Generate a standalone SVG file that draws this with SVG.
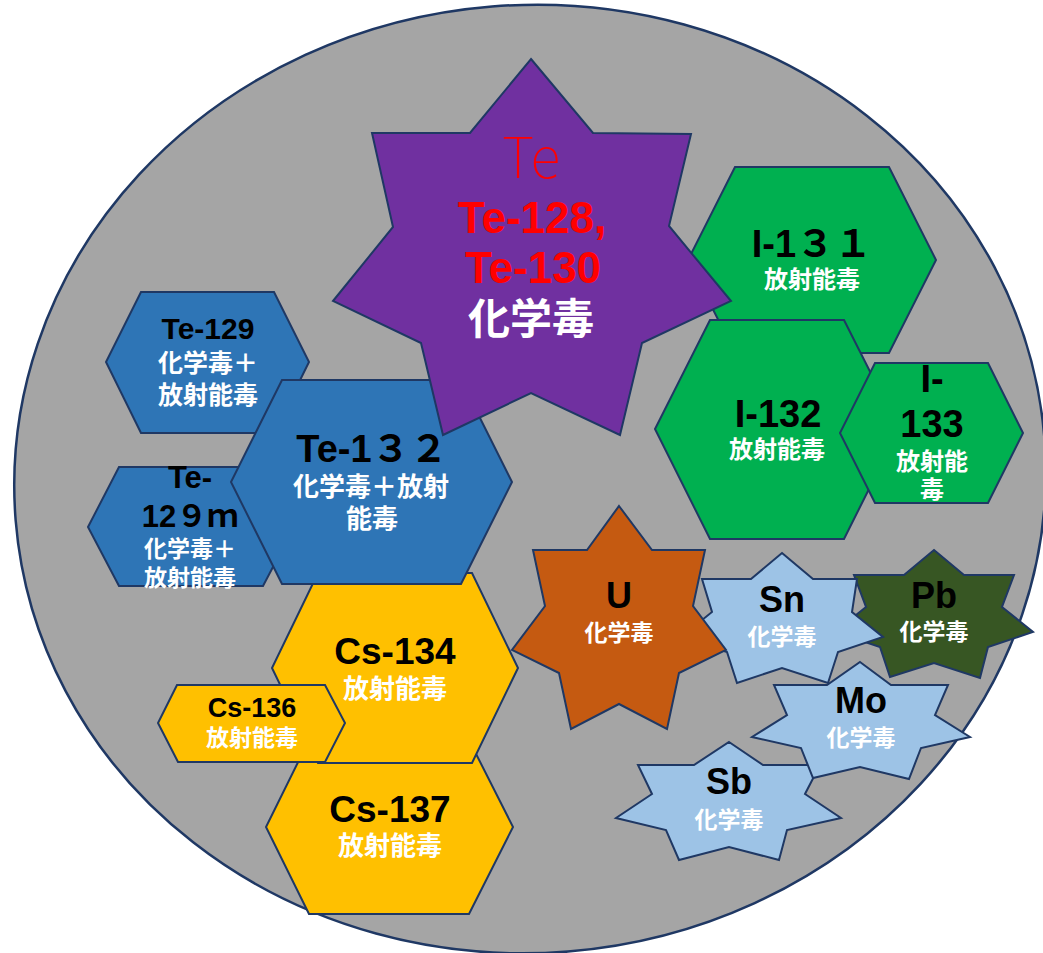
<svg xmlns="http://www.w3.org/2000/svg" width="1043" height="953" viewBox="0 0 1043 953">
<style>
.s{stroke:#1F3864;stroke-width:2;stroke-linejoin:miter}
.blue{fill:#2E75B6}.gold{fill:#FFC000}.green{fill:#00B050}.purple{fill:#7030A0}
.orange{fill:#C55A11}.lblue{fill:#9DC3E6}.dgreen{fill:#375623}
.k{font-family:"Liberation Sans","Noto Sans CJK JP",sans-serif;font-weight:bold;fill:#000;text-anchor:middle}
.w{font-family:"Noto Sans CJK JP",sans-serif;font-weight:bold;fill:#fff;text-anchor:middle}
.r{font-family:"Liberation Sans","Noto Sans CJK JP",sans-serif;font-weight:bold;fill:#FF0000;text-anchor:middle}
.rt{font-family:"Noto Sans CJK JP",sans-serif;font-weight:100;fill:#FF0000;text-anchor:middle}
</style>
<g id="background">
<ellipse cx="530" cy="479" rx="516" ry="474" transform="rotate(-4.6 530 479)" fill="#A5A5A5" stroke="#1F3864" stroke-width="2.5"/>
</g>
<g id="te129">
<polygon class="s blue" points="141,292 274,292 309,362 274,433 141,433 106,362"/>
<text class="k" x="208" y="339" font-size="30">Te-129</text>
<text class="w" x="208" y="372" font-size="25">化学毒＋</text>
<text class="w" x="208" y="404" font-size="25">放射能毒</text>
</g>
<g id="te129m">
<polygon class="s blue" points="119,467 263,467 294,527 263,586 119,586 88,527"/>
<text class="k" x="190" y="488" font-size="31">Te-</text>
<text class="k" x="190" y="527" font-size="31">12９ｍ</text>
<text class="w" x="190" y="557" font-size="23">化学毒＋</text>
<text class="w" x="190" y="586" font-size="23">放射能毒</text>
</g>
<g id="cs137">
<polygon class="s gold" points="309,740 469,740 513,827 469,914 309,914 266,827"/>
<text class="k" x="390" y="822" font-size="37">Cs-137</text>
<text class="w" x="390" y="855" font-size="26">放射能毒</text>
</g>
<g id="cs134">
<polygon class="s gold" points="318,573 472,573 518,668 472,763 318,763 272,668"/>
<text class="k" x="395" y="664" font-size="37">Cs-134</text>
<text class="w" x="395" y="698" font-size="26">放射能毒</text>
</g>
<g id="cs136">
<polygon class="s gold" points="177,685 325,685 345,723 325,762 178,762 158,723"/>
<text class="k" x="252" y="717" font-size="27">Cs-136</text>
<text class="w" x="252" y="746" font-size="23">放射能毒</text>
</g>
<g id="te132">
<polygon class="s blue" points="282,380 461,380 512,482 461,584 282,584 231,482"/>
<text class="k" x="372" y="462" font-size="38">Te-1３２</text>
<text class="w" x="371" y="496" font-size="26">化学毒＋放射</text>
<text class="w" x="372" y="528" font-size="26">能毒</text>
</g>
<g id="i131">
<polygon class="s green" points="735,167 889,167 936,260 889,353 735,353 688,260"/>
<text class="k" x="812" y="257" font-size="38">I-1３１</text>
<text class="w" x="812" y="288" font-size="24">放射能毒</text>
</g>
<g id="i132">
<polygon class="s green" points="710,320 844,320 899,429 844,539 710,539 655,429"/>
<text class="k" x="778" y="427" font-size="38">I-132</text>
<text class="w" x="777" y="458" font-size="24">放射能毒</text>
</g>
<g id="i133">
<polygon class="s green" points="875,363 988,363 1023,433 988,503 875,503 840,433"/>
<text class="k" x="932" y="392" font-size="38">I-</text>
<text class="k" x="932" y="437" font-size="38">133</text>
<text class="w" x="932" y="470" font-size="24">放射能</text>
<text class="w" x="932" y="498" font-size="24">毒</text>
</g>
<g id="te">
<polygon class="s purple" points="531,59 593,133 691,134 669,226 731,301 642,343 620,435 531,393 443,435 421,343 333,301 393,227 372,133 470,133"/>
<text class="rt" x="531" y="178" font-size="56">Te</text>
<text class="r" x="532" y="233" font-size="44">Te-128,</text>
<text class="r" x="533" y="283" font-size="44">Te-130</text>
<text class="w" x="531" y="334" font-size="42">化学毒</text>
</g>
<g id="pb">
<polygon class="s dgreen" points="934,550 964,575 1014,575 1002,607 1033,632 988,647 980,678 934,663 890,677 880,647 835,632 866,607 854,575 904,575"/>
<text class="k" x="934" y="608" font-size="36">Pb</text>
<text class="w" x="934" y="640" font-size="23">化学毒</text>
</g>
<g id="sn">
<polygon class="s lblue" points="782,553 813,579 857,579 852,612 883,637 838,652 828,683 782,668 737,683 727,652 681,637 712,612 702,579 751,579"/>
<text class="k" x="782" y="612" font-size="36">Sn</text>
<text class="w" x="782" y="645" font-size="23">化学毒</text>
</g>
<g id="u">
<polygon class="s orange" points="619,506 652,550 705,550 693,606 726,650 679,673 667,729 619,704 571,729 559,673 512,650 545,606 533,550 587,550"/>
<text class="k" x="619" y="608" font-size="36">U</text>
<text class="w" x="619" y="641" font-size="23">化学毒</text>
</g>
<g id="sb">
<polygon class="s lblue" points="729,742 763,765 820,765 805,794 841,818 787,830 779,860 729,847 679,860 666,830 616,818 652,794 638,765 694,765"/>
<text class="k" x="729" y="794" font-size="36">Sb</text>
<text class="w" x="729" y="828" font-size="23">化学毒</text>
</g>
<g id="mo">
<polygon class="s lblue" points="860,662 891,685 948,685 935,715 970,737 921,748 909,779 860,767 813,778 801,748 752,737 787,715 774,685 827,685"/>
<text class="k" x="861" y="713" font-size="36">Mo</text>
<text class="w" x="861" y="746" font-size="23">化学毒</text>
</g>
<g id="connectors"/>
</svg>
